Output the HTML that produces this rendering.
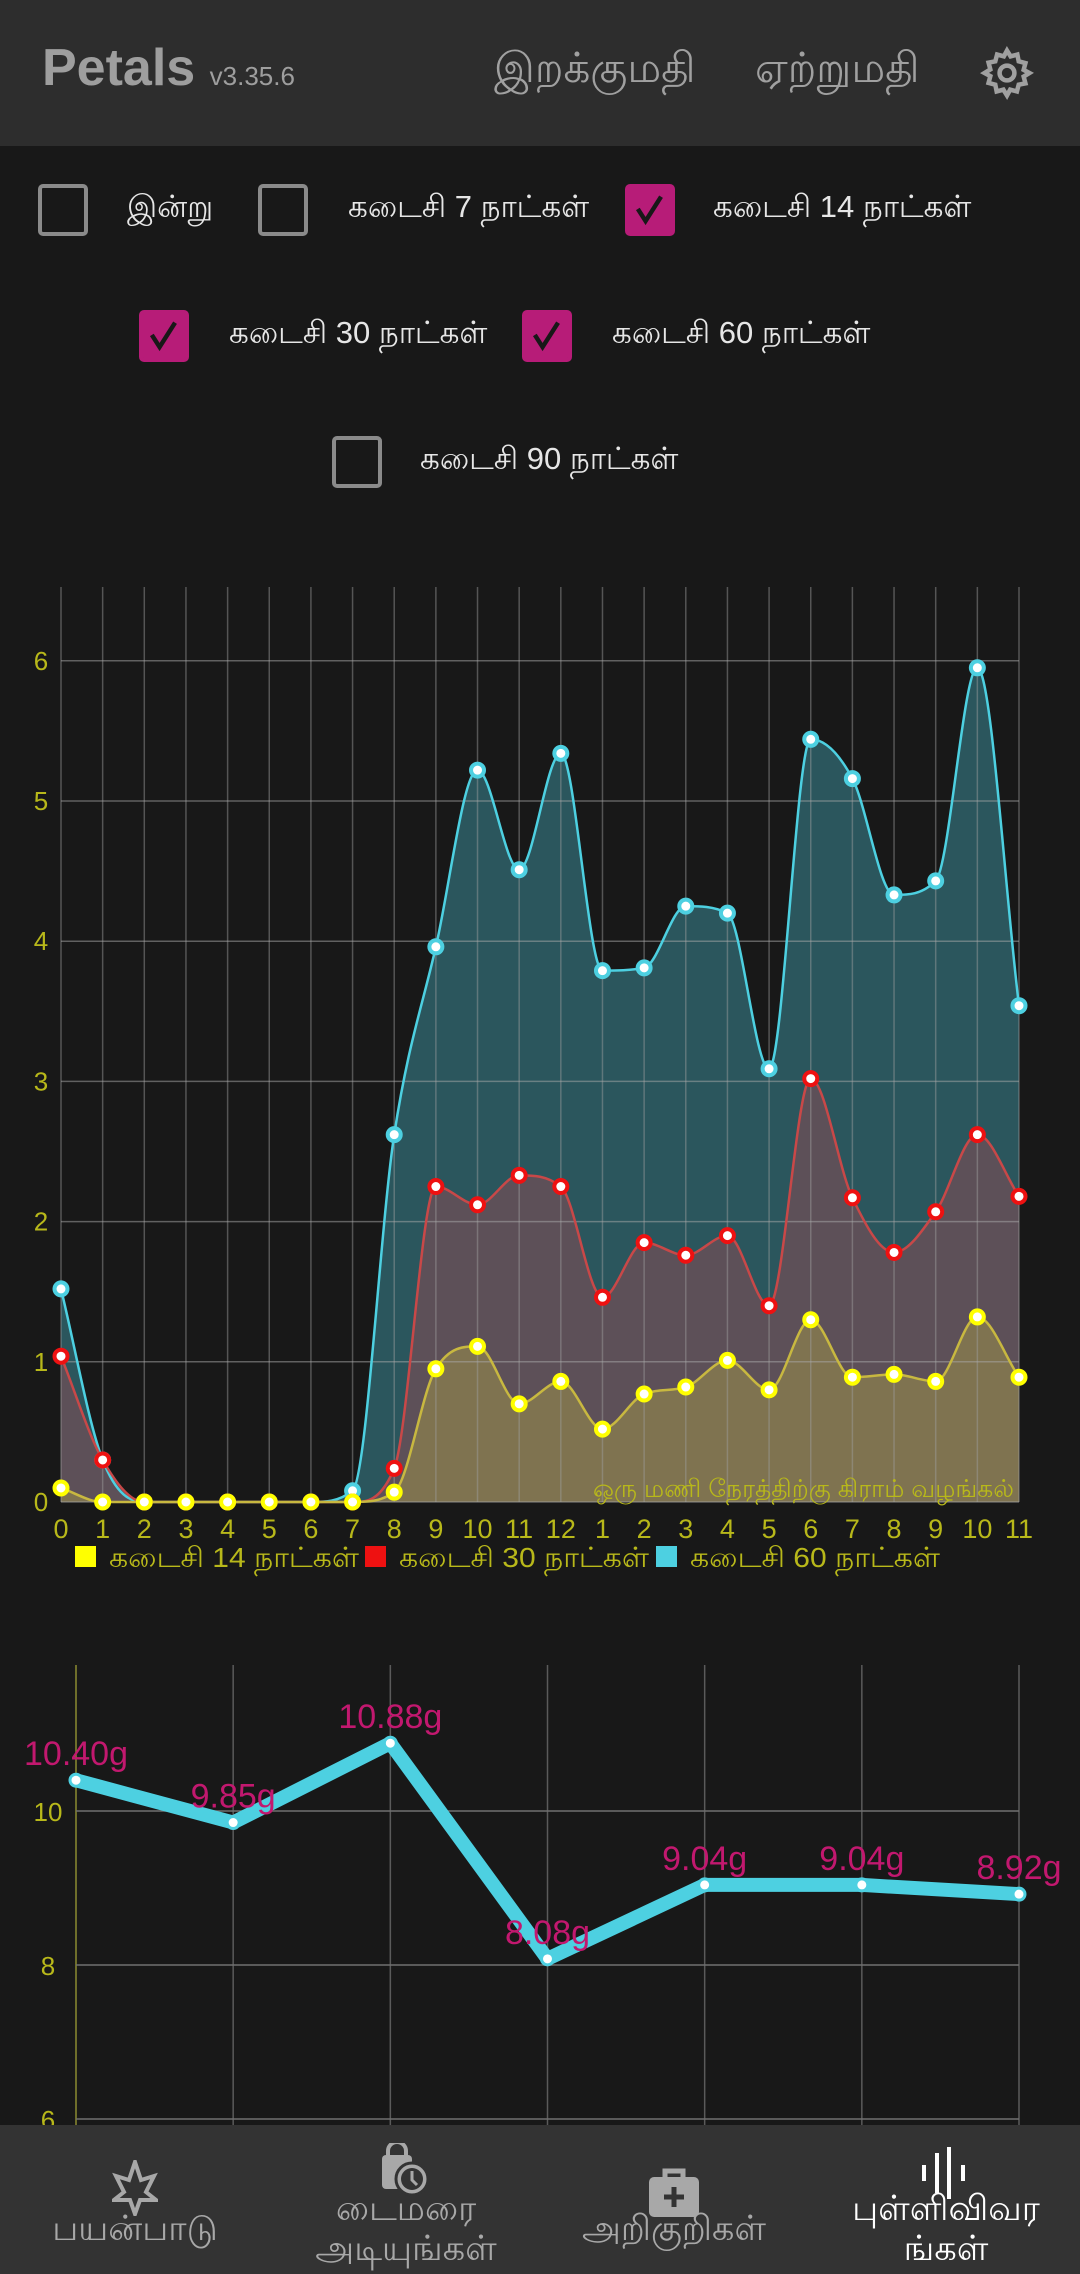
<!DOCTYPE html>
<html><head><meta charset="utf-8">
<style>
html,body{margin:0;padding:0;background:#181818;}
body{width:1080px;height:2274px;position:relative;overflow:hidden;font-family:"Liberation Sans","Noto Sans CJK SC",sans-serif;}
.abs{position:absolute;}
.hdr{left:0;top:0;width:1080px;height:146px;background:#2d2d2d;}
.cb{position:absolute;width:50px;height:52px;border:4px solid #8a8a8a;border-radius:5px;box-sizing:border-box;}
.cb.on{background:#b71c78;border-color:#b71c78;}
.lbl{position:absolute;color:#e6e6e6;font-size:31px;line-height:34px;white-space:nowrap;}
.nav{left:0;top:2125px;width:1080px;height:149px;background:#333333;}
.nl{position:absolute;color:#a8a8a8;font-size:35px;line-height:40px;text-align:center;width:280px;}
</style></head><body>
<div class="abs hdr">
  <div class="abs" style="left:42px;top:38px;color:#9e9e9e;font-size:52px;font-weight:bold;">Petals <span style="font-size:26px;font-weight:normal;">v3.35.6</span></div>
  <div class="abs" style="left:494px;top:44px;color:#a0a0a0;font-size:42px;">இறக்குமதி</div>
  <div class="abs" style="left:755px;top:44px;color:#a0a0a0;font-size:42px;">ஏற்றுமதி</div>
  <svg class="abs" style="left:980px;top:46px" width="54" height="54" viewBox="0 0 24 24"><path fill="none" stroke="#a0a0a0" stroke-width="2" d="M12 2l1.6 2.6 3-.8.6 3 3 .8-.8 3L22 12l-2.6 1.6.8 3-3 .6-.8 3-3-.8L12 22l-1.6-2.6-3 .8-.6-3-3-.8.8-3L2 12l2.6-1.6-.8-3 3-.6.8-3 3 .8z"/><circle cx="12" cy="12" r="3.3" fill="none" stroke="#a0a0a0" stroke-width="2"/></svg>
</div>

<div class="cb" style="left:38px;top:184px"></div>
<div class="lbl" style="left:127px;top:190px">இன்று</div>
<div class="cb" style="left:258px;top:184px"></div>
<div class="lbl" style="left:348px;top:190px">கடைசி 7 நாட்கள்</div>
<div class="cb on" style="left:625px;top:184px"><svg width="42" height="44" viewBox="0 0 38 38"><path d="M8 18l7 11 14-22" fill="none" stroke="#181818" stroke-width="4"/></svg></div>
<div class="lbl" style="left:713px;top:190px">கடைசி 14 நாட்கள்</div>
<div class="cb on" style="left:139px;top:310px"><svg width="42" height="44" viewBox="0 0 38 38"><path d="M8 18l7 11 14-22" fill="none" stroke="#181818" stroke-width="4"/></svg></div>
<div class="lbl" style="left:229px;top:316px">கடைசி 30 நாட்கள்</div>
<div class="cb on" style="left:522px;top:310px"><svg width="42" height="44" viewBox="0 0 38 38"><path d="M8 18l7 11 14-22" fill="none" stroke="#181818" stroke-width="4"/></svg></div>
<div class="lbl" style="left:612px;top:316px">கடைசி 60 நாட்கள்</div>
<div class="cb" style="left:332px;top:436px"></div>
<div class="lbl" style="left:420px;top:442px">கடைசி 90 நாட்கள்</div>

<svg class="abs" id="c1" style="left:0;top:0" width="1080" height="1600"></svg>
<svg class="abs" id="c2" style="left:0;top:0" width="1080" height="2274"></svg>

<div class="abs nav">
  <svg class="abs" style="left:112px;top:35px" width="46" height="56" viewBox="0 0 46 56"><path d="M23 2 L29 20 L42 16 L34 32 L44 40 L28 40 L23 54 L18 40 L2 40 L12 32 L4 16 L17 20 Z" fill="none" stroke="#a8a8a8" stroke-width="4"/></svg>
  <div class="nl" style="left:-5px;top:84px">பயன்பாடு</div>
  <svg class="abs" style="left:378px;top:18px" width="56" height="56" viewBox="0 0 56 56"><rect x="4" y="12" width="30" height="34" rx="4" fill="#a8a8a8"/><path d="M10 14v-6a9 9 0 0 1 18 0v6" fill="none" stroke="#a8a8a8" stroke-width="4"/><circle cx="34" cy="36" r="16" fill="#a8a8a8" stroke="#333" stroke-width="3"/><circle cx="34" cy="36" r="11" fill="#333"/><path d="M34 28v9l5 5" stroke="#a8a8a8" stroke-width="3" fill="none"/></svg>
  <div class="nl" style="left:266px;top:64px">டைமரை<br>அடியுங்கள்</div>
  <svg class="abs" style="left:647px;top:40px" width="54" height="54" viewBox="0 0 54 54"><rect x="2" y="12" width="50" height="40" rx="5" fill="#a8a8a8"/><path d="M18 12V6h18v6" fill="none" stroke="#a8a8a8" stroke-width="5"/><path d="M27 22v20M17 32h20" stroke="#333" stroke-width="5"/></svg>
  <div class="nl" style="left:534px;top:84px">அறிகுறிகள்</div>
  <svg class="abs" style="left:920px;top:20px" width="50" height="56" viewBox="0 0 50 56"><path d="M4 20v16M17 8v40M29 2v52M43 20v16" stroke="#fff" stroke-width="4"/></svg>
  <div class="nl" style="left:806px;top:64px;color:#fff">புள்ளிவிவர<br>ங்கள்</div>
</div>

<script>
const NS='http://www.w3.org/2000/svg';
function mk(p,t,a){const e=document.createElementNS(NS,t);for(const k in a)e.setAttribute(k,a[k]);p.appendChild(e);return e;}

// ---- chart 1 data ----
const hourLabels=['0','1','2','3','4','5','6','7','8','9','10','11','12','1','2','3','4','5','6','7','8','9','10','11'];
const yTicks1=[0,1,2,3,4,5,6];
const series60=[1.52,0.30,0,0,0,0,0,0.08,2.62,3.96,5.22,4.51,5.34,3.79,3.81,4.25,4.20,3.09,5.44,5.16,4.33,4.43,5.95,3.54];
const series30=[1.04,0.30,0,0,0,0,0,0,0.24,2.25,2.12,2.33,2.25,1.46,1.85,1.76,1.90,1.40,3.02,2.17,1.78,2.07,2.62,2.18];
const series14=[0.10,0,0,0,0,0,0,0,0.07,0.95,1.11,0.70,0.86,0.52,0.77,0.82,1.01,0.80,1.30,0.89,0.91,0.86,1.32,0.89];
const legendLabels=['கடைசி 14 நாட்கள்','கடைசி 30 நாட்கள்','கடைசி 60 நாட்கள்'];

// ---- chart 2 data ----
const dayValues=[10.40,9.85,10.88,8.08,9.04,9.04,8.92];
const dayLabels=['10.40g','9.85g','10.88g','8.08g','9.04g','9.04g','8.92g'];
const yTicks2=[6,8,10];

function monoPath(pts){
  const n=pts.length;const d=[],m=[];
  for(let i=0;i<n-1;i++)d.push((pts[i+1][1]-pts[i][1])/(pts[i+1][0]-pts[i][0]));
  m[0]=d[0];m[n-1]=d[n-2];
  for(let i=1;i<n-1;i++){ if(d[i-1]*d[i]<=0)m[i]=0; else m[i]=(d[i-1]+d[i])/2; }
  for(let i=0;i<n-1;i++){ if(d[i]===0){m[i]=0;m[i+1]=0;continue;} const a=m[i]/d[i],b=m[i+1]/d[i],s=a*a+b*b; if(s>9){const t=3/Math.sqrt(s);m[i]=t*a*d[i];m[i+1]=t*b*d[i];} }
  let p='M'+pts[0][0]+','+pts[0][1];
  for(let i=0;i<n-1;i++){const h=(pts[i+1][0]-pts[i][0])/3;
    p+=' C'+(pts[i][0]+h)+','+(pts[i][1]+m[i]*h)+' '+(pts[i+1][0]-h)+','+(pts[i+1][1]-m[i+1]*h)+' '+pts[i+1][0]+','+pts[i+1][1];}
  return p;
}

(function(){
  const svg=document.getElementById('c1');
  const x0=61,x1=1019,yb=1502,yt=587,unit=140.2;
  const X=i=>x0+i*(x1-x0)/(hourLabels.length-1);
  const Y=v=>yb-v*unit;
  const olive='#b8b81a';
  const defs=[[series60,'#2b565d','#4dd0e1','series-60-days'],[series30,'#5d5058','#c84848','series-30-days'],[series14,'#7f7350','#c8b840','series-14-days']];
  defs.forEach(([s,fill,col,name])=>{
    const pts=s.map((v,i)=>[X(i),Y(v)]);
    const p=monoPath(pts);
    const a=mk(svg,'path',{d:p+' L'+X(s.length-1)+','+yb+' L'+X(0)+','+yb+' Z',fill:fill});
    
  });
  hourLabels.forEach((l,i)=>{
    const ln=mk(svg,'line',{x1:X(i),x2:X(i),y1:yt,y2:yb,stroke:'rgba(160,160,160,0.45)','stroke-width':1.5});
    
    const t=mk(svg,'text',{x:X(i),y:1538,'text-anchor':'middle',fill:olive,'font-size':27,'font-family':'Liberation Sans, sans-serif'});t.textContent=l;
    
  });
  yTicks1.forEach(v=>{
    const ln=mk(svg,'line',{x1:x0,x2:x1,y1:Y(v),y2:Y(v),stroke:'rgba(170,170,170,0.5)','stroke-width':1.5});
    
    const t=mk(svg,'text',{x:41,y:Y(v)+9,'text-anchor':'middle',fill:olive,'font-size':26,'font-family':'Liberation Sans, sans-serif'});t.textContent=v;
    
  });
  defs.forEach(([s,fill,col,name])=>{
    const pts=s.map((v,i)=>[X(i),Y(v)]);
    const l=mk(svg,'path',{d:monoPath(pts),fill:'none',stroke:col,'stroke-width':2.5});
    
  });
  const mcol=[[series60,'#4dd0e1'],[series30,'#ee1111'],[series14,'#ffff00']];
  mcol.forEach(([s,col])=>{
    s.forEach((v,i)=>{const c=mk(svg,'circle',{cx:X(i),cy:Y(v),r:6.5,fill:'#fff',stroke:col,'stroke-width':4});
      });
  });
  const w=mk(svg,'text',{x:1014,y:1497,'text-anchor':'end',fill:olive,'font-size':25,'font-family':'Liberation Sans, Noto Sans CJK SC, sans-serif'});
  w.textContent='ஒரு மணி நேரத்திற்கு கிராம் வழங்கல்';
  
  const lc=['#ffff00','#ee1111','#4dd0e1'];const lx=[75,365,656];
  legendLabels.forEach((t,i)=>{
    const r=mk(svg,'rect',{x:lx[i],y:1546,width:21,height:21,fill:lc[i]});
    
    const tx=mk(svg,'text',{x:lx[i]+34,y:1567,fill:olive,'font-size':28,'font-family':'Liberation Sans, Noto Sans CJK SC, sans-serif','textLength':250,'lengthAdjust':'spacingAndGlyphs'});tx.textContent=t;
    
  });
})();

(function(){
  const svg=document.getElementById('c2');
  const x0=76,x1=1019,yt=1665,unit=77,y10=1811;
  const X=i=>x0+i*(x1-x0)/(dayValues.length-1);
  const Y=v=>y10+(10-v)*unit;
  dayValues.forEach((v,i)=>{
    const ln=mk(svg,'line',{x1:X(i),x2:X(i),y1:yt,y2:2125,stroke:i===0?'#8a8a30':'#5a5a5a','stroke-width':1.5});
    
  });
  yTicks2.forEach(v=>{
    const ln=mk(svg,'line',{x1:x0,x2:x1,y1:Y(v),y2:Y(v),stroke:'#707070','stroke-width':1.5});
    
    const t=mk(svg,'text',{x:48,y:Y(v)+10,'text-anchor':'middle',fill:'#b8b81a','font-size':26,'font-family':'Liberation Sans, sans-serif'});t.textContent=v;
    
  });
  const pts=dayValues.map((v,i)=>X(i)+','+Y(v)).join(' ');
  const pl=mk(svg,'polyline',{points:pts,fill:'none',stroke:'#4dd0e1','stroke-width':14,'stroke-linejoin':'round'});
  
  dayValues.forEach((v,i)=>{
    const c=mk(svg,'circle',{cx:X(i),cy:Y(v),r:6,fill:'#fff',stroke:'#4dd0e1','stroke-width':3});
    
    const t=mk(svg,'text',{x:X(i),y:Y(v)-15,'text-anchor':'middle',fill:'#c2186f','font-size':34,'font-family':'Liberation Sans, sans-serif'});t.textContent=dayLabels[i];
    
  });
})();
</script>
</body></html>
